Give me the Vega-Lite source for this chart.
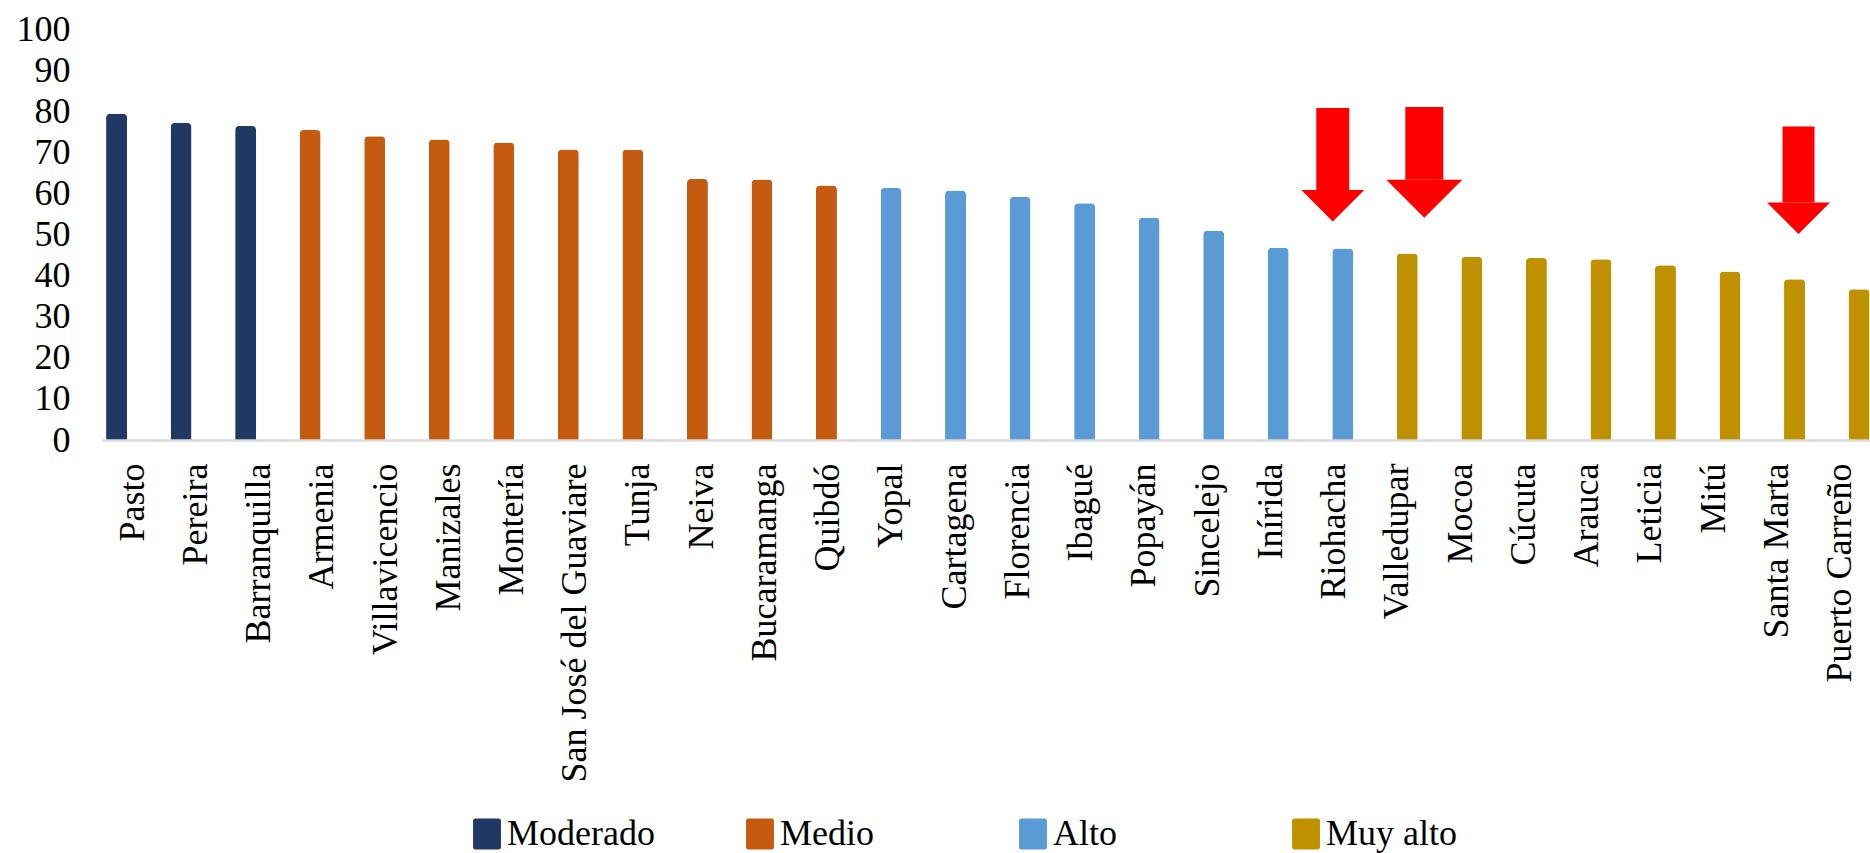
{
  "$schema": "https://vega.github.io/schema/vega-lite/v6.json",
  "autosize": {"type": "none"},
  "width": 1768,
  "height": 411,
  "padding": {"left": 102, "top": 29, "right": 0, "bottom": 413},
  "background": "white",
  "config": {
    "view": {"stroke": null},
    "font": "Liberation Serif"
  },
  "datasets": {
    "cities": [
      {"city": "Pasto", "value": 79.4, "group": "Moderado"},
      {"city": "Pereira", "value": 77.1, "group": "Moderado"},
      {"city": "Barranquilla", "value": 76.4, "group": "Moderado"},
      {"city": "Armenia", "value": 75.4, "group": "Medio"},
      {"city": "Villavicencio", "value": 73.9, "group": "Medio"},
      {"city": "Manizales", "value": 73.1, "group": "Medio"},
      {"city": "Montería", "value": 72.4, "group": "Medio"},
      {"city": "San José del Guaviare", "value": 70.7, "group": "Medio"},
      {"city": "Tunja", "value": 70.6, "group": "Medio"},
      {"city": "Neiva", "value": 63.5, "group": "Medio"},
      {"city": "Bucaramanga", "value": 63.4, "group": "Medio"},
      {"city": "Quibdó", "value": 61.9, "group": "Medio"},
      {"city": "Yopal", "value": 61.3, "group": "Alto"},
      {"city": "Cartagena", "value": 60.7, "group": "Alto"},
      {"city": "Florencia", "value": 59.1, "group": "Alto"},
      {"city": "Ibagué", "value": 57.6, "group": "Alto"},
      {"city": "Popayán", "value": 54.1, "group": "Alto"},
      {"city": "Sincelejo", "value": 50.9, "group": "Alto"},
      {"city": "Inírida", "value": 46.8, "group": "Alto"},
      {"city": "Riohacha", "value": 46.6, "group": "Alto"},
      {"city": "Valledupar", "value": 45.4, "group": "Muy alto"},
      {"city": "Mocoa", "value": 44.6, "group": "Muy alto"},
      {"city": "Cúcuta", "value": 44.3, "group": "Muy alto"},
      {"city": "Arauca", "value": 44.0, "group": "Muy alto"},
      {"city": "Leticia", "value": 42.5, "group": "Muy alto"},
      {"city": "Mitú", "value": 41.0, "group": "Muy alto"},
      {"city": "Santa Marta", "value": 39.1, "group": "Muy alto"},
      {"city": "Puerto Carreño", "value": 36.7, "group": "Muy alto"}
    ],
    "arrows": [
      {"city": "Riohacha", "top": 80.8, "base": 60.8},
      {"city": "Valledupar", "top": 81.0, "base": 63.3},
      {"city": "Santa Marta", "top": 76.3, "base": 57.8}
    ]
  },
  "layer": [
    {
      "data": {"name": "cities"},
      "mark": {"type": "bar", "cornerRadiusTopLeft": 4, "cornerRadiusTopRight": 4},
      "encoding": {
        "x": {
          "field": "city", "type": "nominal", "sort": null,
          "scale": {"paddingInner": 0.675, "paddingOuter": 0.035, "align": 0.9},
          "axis": {
            "title": null, "labelAngle": -90, "labelFontSize": 36, "labelFont": "Liberation Serif",
            "labelColor": "black", "ticks": false, "tickSize": 0, "labelPadding": 23,
            "labelOffset": {"expr": "16 - 35 * datum.index"},
            "domainColor": "#D9D9D9", "domainWidth": 2.5, "zindex": 1, "labelLimit": 0
          }
        },
        "y": {
          "field": "value", "type": "quantitative",
          "scale": {"domain": [0, 100], "nice": false},
          "axis": {
            "title": null, "values": [0,10,20,30,40,50,60,70,80,90,100],
            "grid": false, "domain": false, "ticks": false, "tickSize": 0,
            "labelFontSize": 36, "labelFont": "Liberation Serif", "labelColor": "black",
            "labelPadding": 32
          }
        },
        "color": {
          "field": "group", "type": "nominal",
          "scale": {"domain": ["Moderado", "Medio", "Alto", "Muy alto"], "range": ["#203864", "#C55A11", "#5B9BD5", "#BF9000"]},
          "legend": {
            "title": null, "orient": "none", "legendX": 367, "legendY": 787,
            "direction": "horizontal", "columns": 4,
            "gridAlign": "all", "columnPadding": 87,
            "labelFontSize": 36, "labelFont": "Liberation Serif", "labelColor": "black",
            "labelOffset": 2,
            "symbolType": "M-0.75,-1 H0.75 Q0.9,-1 0.9,-0.85 V0.85 Q0.9,1 0.75,1 H-0.75 Q-0.9,1 -0.9,0.85 V-0.85 Q-0.9,-1 -0.75,-1 Z",
            "symbolSize": 961, "symbolStrokeWidth": 0, "symbolOpacity": 1
          }
        }
      }
    },
    {
      "data": {"name": "arrows"},
      "transform": [{"filter": "datum.city === 'Riohacha'"}],
      "mark": {"type": "bar", "color": "#FF0000", "width": 33, "xOffset": -10},
      "encoding": {
        "x": {"field": "city", "type": "nominal", "sort": null},
        "y": {"field": "top", "type": "quantitative"},
        "y2": {"field": "base"}
      }
    },
    {
      "data": {"name": "arrows"},
      "transform": [{"filter": "datum.city === 'Riohacha'"}],
      "mark": {"type": "point", "shape": "M-1,0 L1,0 L0,1 Z", "filled": true, "opacity": 1, "color": "#FF0000", "size": 3969, "xOffset": -10, "strokeWidth": 0},
      "encoding": {
        "x": {"field": "city", "type": "nominal", "sort": null},
        "y": {"field": "base", "type": "quantitative"}
      }
    },
    {
      "data": {"name": "arrows"},
      "transform": [{"filter": "datum.city === 'Santa Marta'"}],
      "mark": {"type": "bar", "color": "#FF0000", "width": 32, "xOffset": 4},
      "encoding": {
        "x": {"field": "city", "type": "nominal", "sort": null},
        "y": {"field": "top", "type": "quantitative"},
        "y2": {"field": "base"}
      }
    },
    {
      "data": {"name": "arrows"},
      "transform": [{"filter": "datum.city === 'Santa Marta'"}],
      "mark": {"type": "point", "shape": "M-1,0 L1,0 L0,1 Z", "filled": true, "opacity": 1, "color": "#FF0000", "size": 3969, "xOffset": 4, "strokeWidth": 0},
      "encoding": {
        "x": {"field": "city", "type": "nominal", "sort": null},
        "y": {"field": "base", "type": "quantitative"}
      }
    },
    {
      "data": {"name": "arrows"},
      "transform": [{"filter": "datum.city === 'Valledupar'"}],
      "mark": {"type": "bar", "color": "#FF0000", "width": 38, "xOffset": 17},
      "encoding": {
        "x": {"field": "city", "type": "nominal", "sort": null},
        "y": {"field": "top", "type": "quantitative"},
        "y2": {"field": "base"}
      }
    },
    {
      "data": {"name": "arrows"},
      "transform": [{"filter": "datum.city === 'Valledupar'"}],
      "mark": {"type": "point", "shape": "M-1,0 L1,0 L0,1 Z", "filled": true, "opacity": 1, "color": "#FF0000", "size": 5776, "xOffset": 17, "strokeWidth": 0},
      "encoding": {
        "x": {"field": "city", "type": "nominal", "sort": null},
        "y": {"field": "base", "type": "quantitative"}
      }
    }
  ]
}
